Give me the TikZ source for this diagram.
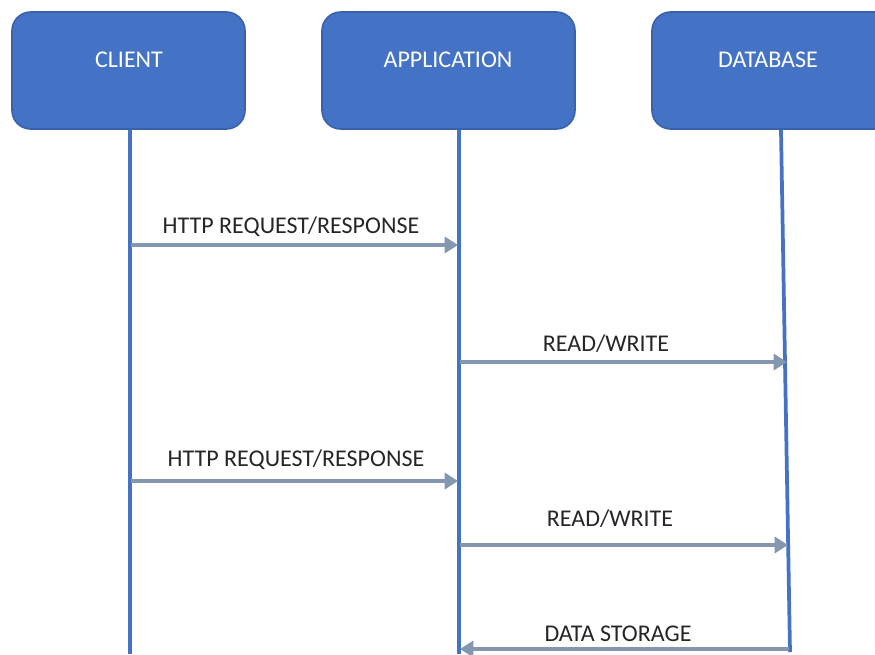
\documentclass[tikz,border=0pt]{standalone}
\usepackage{fontspec}
\setmainfont{Carlito}
\usetikzlibrary{arrows.meta}
\definecolor{boxfill}{HTML}{4472C4}
\definecolor{boxedge}{HTML}{3A62AA}
\definecolor{arrowc}{HTML}{8497B0}
\begin{document}
\begin{tikzpicture}[x=0.75pt,y=-0.75pt,
  actor/.style={draw=boxedge,line width=1.2pt,fill=boxfill,rounded corners=14pt},
  actorlabel/.style={text=white,font=\fontsize{18}{21}\selectfont},
  lifeline/.style={draw=boxfill,line width=2.8pt},
  msg/.style={draw=arrowc,line width=3.6pt,-{Triangle[length=10pt,width=12pt]}},
  msglabel/.style={text=black!85,font=\fontsize{18}{21}\selectfont}]
\useasboundingbox (0,0) rectangle (875,654);
\filldraw[actor] (12,12) rectangle (245,129);
\filldraw[actor] (322,12) rectangle (575,129);
\filldraw[actor] (652,12) rectangle (895,129);
\node[actorlabel] (client) at (129,60) {CLIENT};
\node[actorlabel] (app) at (448,60) {APPLICATION};
\node[actorlabel] (db) at (768,60) {DATABASE};
\coordinate (ctop) at (130,130);
\coordinate (cbot) at (130,654);
\coordinate (atop) at (459,130);
\coordinate (abot) at (459,654);
\coordinate (dtop) at (781,130);
\coordinate (dbot) at (790,652);
\draw[lifeline] (ctop) -- (cbot);
\draw[lifeline] (atop) -- (abot);
\draw[lifeline] (dtop) -- (dbot);
\coordinate (m1a) at (131,245); \coordinate (m1b) at (458,245);
\coordinate (m2a) at (460,362); \coordinate (m2b) at (787,362);
\coordinate (m3a) at (131,481); \coordinate (m3b) at (458,481);
\coordinate (m4a) at (460,545); \coordinate (m4b) at (788,545);
\coordinate (m5a) at (789,649); \coordinate (m5b) at (460,649);
\draw[msg] (m1a) -- (m1b);
\draw[msg] (m2a) -- (m2b);
\draw[msg] (m3a) -- (m3b);
\draw[msg] (m4a) -- (m4b);
\draw[msg] (m5a) -- (m5b);
\node[msglabel] (l1) at (291,227) {HTTP REQUEST/RESPONSE};
\node[msglabel] (l2) at (606,344) {READ/WRITE};
\node[msglabel] (l3) at (296,460) {HTTP REQUEST/RESPONSE};
\node[msglabel] (l4) at (610,519) {READ/WRITE};
\node[msglabel] (l5) at (618,634) {DATA STORAGE};
\end{tikzpicture}
\end{document}
